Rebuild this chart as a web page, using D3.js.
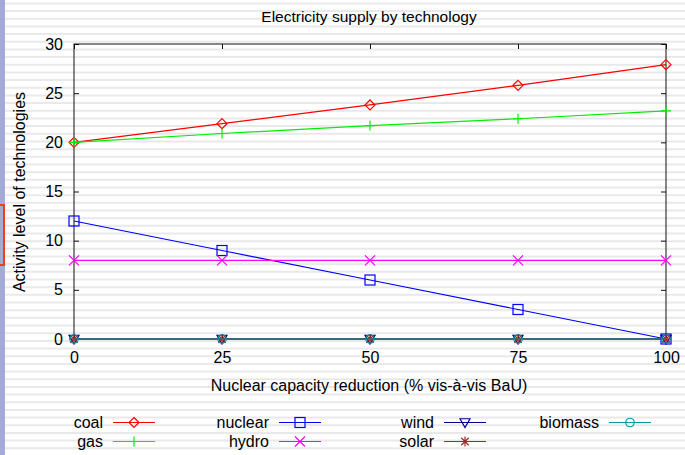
<!DOCTYPE html>
<html>
<head>
<meta charset="utf-8">
<script src="https://cdn.jsdelivr.net/npm/d3@7"></script>
<style>
  html, body { margin: 0; padding: 0; background: #fff; }
  svg { display: block; font-family: "Liberation Sans", Arial, sans-serif; }
</style>
</head>
<body>
<svg id="chart" width="685" height="455"></svg>
<script>
// Nuclear capacity reduction steps (% vis-à-vis BaU)
const reductions = [0, 25, 50, 75, 100];

// Activity level per technology at each reduction step
const coal    = [20, 21.9, 23.8, 25.8, 27.9];
const gas     = [20, 20.9, 21.7, 22.4, 23.2];
const nuclear = [12, 9, 6, 3, 0];
const hydro   = [8, 8, 8, 8, 8];
const wind    = [0, 0, 0, 0, 0];
const solar   = [0, 0, 0, 0, 0];
const biomass = [0, 0, 0, 0, 0];

const xTicks = [0, 25, 50, 75, 100];
const yTicks = [0, 5, 10, 15, 20, 25, 30];

const series = [
  { name: "coal",    values: coal,    color: "#ff0000", symbol: "diamond" },
  { name: "gas",     values: gas,     color: "#00ee00", symbol: "plus" },
  { name: "nuclear", values: nuclear, color: "#0000ff", symbol: "square" },
  { name: "hydro",   values: hydro,   color: "#ff00ff", symbol: "cross" },
  { name: "wind",    values: wind,    color: "#000090", symbol: "triangle" },
  { name: "solar",   values: solar,   color: "#a02828", symbol: "star" },
  { name: "biomass", values: biomass, color: "#009a9a", symbol: "circle" }
];

const svg = d3.select("#chart");
const W = 685, H = 455;

// Striped slide background
const bg = svg.append("g");
bg.append("rect").attr("width", W).attr("height", H).attr("fill", "#fff");
bg.selectAll("line.stripe")
  .data(d3.range(3.4, H, 7.67))
  .join("line")
  .attr("x1", 0).attr("x2", W)
  .attr("y1", d => d).attr("y2", d => d)
  .attr("stroke", "#e9e9e9").attr("stroke-width", 2);
bg.append("rect").attr("x", 0).attr("y", 0).attr("width", 5).attr("height", H).attr("fill", "#a4abd8");
bg.append("rect").attr("x", -3).attr("y", 205).attr("width", 7).attr("height", 60)
  .attr("fill", "none").attr("stroke", "#f0401a").attr("stroke-width", 2);

const plot = { left: 74, right: 666, top: 44, bottom: 339 };
const x = d3.scaleLinear().domain([0, 100]).range([plot.left, plot.right]);
const y = d3.scaleLinear().domain([0, 30]).range([plot.bottom, plot.top]);

const frameColor = "#111";

// Axes with inward ticks on all four sides
const axisLeft = d3.axisLeft(y).tickValues(yTicks).tickSizeInner(-5).tickSizeOuter(0).tickPadding(11);
const axisRight = d3.axisRight(y).tickValues(yTicks).tickSizeInner(-5).tickSizeOuter(0).tickFormat("");
const axisBottom = d3.axisBottom(x).tickValues(xTicks).tickSizeInner(-5).tickSizeOuter(0).tickPadding(13);
const axisTop = d3.axisTop(x).tickValues(xTicks).tickSizeInner(-5).tickSizeOuter(0).tickFormat("");

function styleAxis(g) {
  g.select(".domain").remove();
  g.selectAll("line").attr("stroke", frameColor);
  g.selectAll("text").attr("fill", "#000").attr("font-size", 16)
    .attr("font-family", "'Liberation Sans', Arial, sans-serif");
}

svg.append("g").attr("transform", `translate(${plot.left},0)`).call(axisLeft).call(styleAxis);
svg.append("g").attr("transform", `translate(${plot.right},0)`).call(axisRight).call(styleAxis);
svg.append("g").attr("transform", `translate(0,${plot.bottom})`).call(axisBottom).call(styleAxis);
svg.append("g").attr("transform", `translate(0,${plot.top})`).call(axisTop).call(styleAxis);

svg.append("rect")
  .attr("x", plot.left).attr("y", plot.top)
  .attr("width", plot.right - plot.left).attr("height", plot.bottom - plot.top)
  .attr("fill", "none").attr("stroke", frameColor).attr("stroke-width", 1);

// Titles
svg.append("text").attr("x", 369).attr("y", 22).attr("text-anchor", "middle")
  .attr("font-size", 15.5).text("Electricity supply by technology");
svg.append("text").attr("x", 369).attr("y", 391).attr("text-anchor", "middle")
  .attr("font-size", 16).text("Nuclear capacity reduction (% vis-à-vis BaU)");
svg.append("text").attr("transform", "translate(25,192) rotate(-90)").attr("text-anchor", "middle")
  .attr("font-size", 16).text("Activity level of technologies");

// Marker shapes
function drawMarker(g, symbol, color, s) {
  const h = s / 2;
  g.attr("fill", "none").attr("stroke", color).attr("stroke-width", 1.2);
  switch (symbol) {
    case "diamond":
      g.append("path").attr("d", `M0,${-h}L${h},0L0,${h}L${-h},0Z`); break;
    case "plus":
      g.append("path").attr("d", `M${-h},0H${h}M0,${-h}V${h}`); break;
    case "square":
      g.append("rect").attr("x", -h).attr("y", -h).attr("width", s).attr("height", s); break;
    case "cross":
      g.append("path").attr("d", `M${-h},${-h}L${h},${h}M${-h},${h}L${h},${-h}`); break;
    case "triangle":
      g.append("path").attr("d", `M${-h},${-h * 0.75}L${h},${-h * 0.75}L0,${h}Z`); break;
    case "star":
      g.append("path").attr("d", `M${-h},0H${h}M0,${-h}V${h}M${-h * 0.75},${-h * 0.75}L${h * 0.75},${h * 0.75}M${-h * 0.75},${h * 0.75}L${h * 0.75},${-h * 0.75}`); break;
    case "circle":
      g.append("circle").attr("r", h * 0.85); break;
  }
}

const line = d3.line().x((d, i) => x(reductions[i])).y(d => y(d));

series.forEach(s => {
  const g = svg.append("g");
  g.append("path").datum(s.values).attr("d", line)
    .attr("fill", "none").attr("stroke", s.color).attr("stroke-width", 1.2);
  s.values.forEach((v, i) => {
    const m = g.append("g").attr("transform", `translate(${x(reductions[i])},${y(v)})`);
    drawMarker(m, s.symbol, s.color, 10);
  });
});

// Legend: four columns, two rows (column-major)
const legendCols = [103, 269, 434, 599];
const legendRows = [422.5, 441.5];
series.forEach((s, k) => {
  const cx = legendCols[Math.floor(k / 2)];
  const cy = legendRows[k % 2];
  const g = svg.append("g");
  g.append("text").attr("x", cx).attr("y", cy + 5.5).attr("text-anchor", "end")
    .attr("font-size", 16).text(s.name);
  g.append("line").attr("x1", cx + 10).attr("x2", cx + 52).attr("y1", cy).attr("y2", cy)
    .attr("stroke", s.color).attr("stroke-width", 1.2);
  const m = g.append("g").attr("transform", `translate(${cx + 31},${cy})`);
  drawMarker(m, s.symbol, s.color, 10);
});
</script>
</body>
</html>
